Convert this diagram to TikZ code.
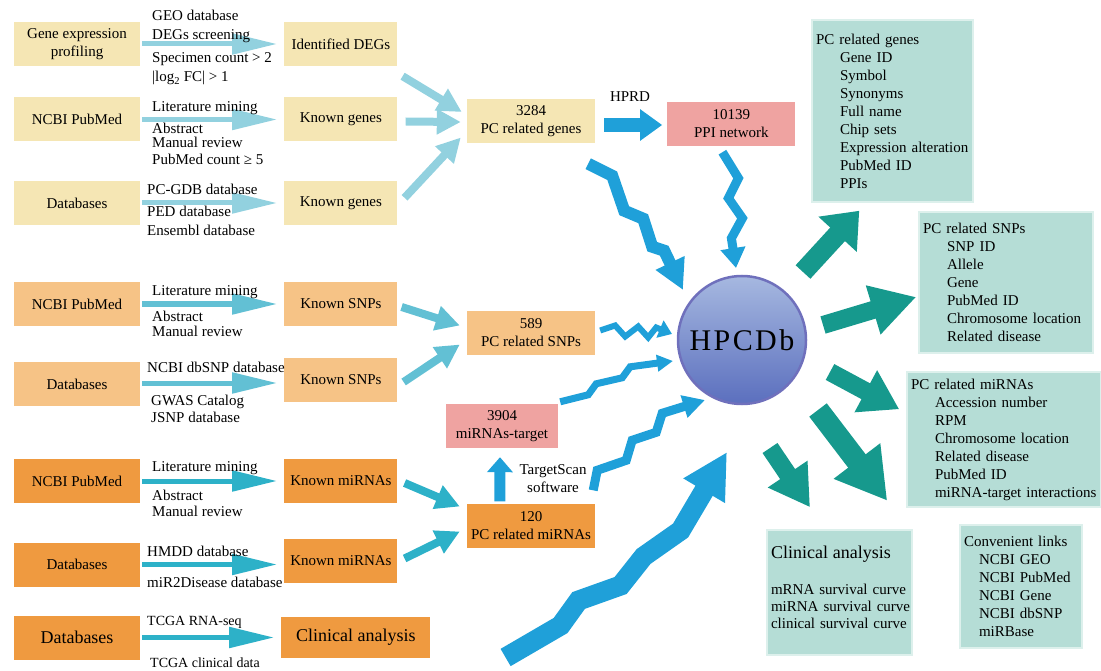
\documentclass[tikz,border=0pt]{standalone}
\usepackage{fontspec}
\setmainfont{Liberation Serif}
\usetikzlibrary{positioning, arrows.meta, calc}

\definecolor{genefill}{HTML}{F5E6B4}
\definecolor{snpfill}{HTML}{F6C386}
\definecolor{mirfill}{HTML}{EF9A40}
\definecolor{pinkfill}{HTML}{EFA3A1}
\definecolor{infofill}{HTML}{B5DDD6}
\definecolor{infoedge}{HTML}{DDF0EC}
\definecolor{genearr}{HTML}{92D1DF}
\definecolor{snparr}{HTML}{62C0D4}
\definecolor{mirarr}{HTML}{2DB1C8}
\definecolor{boltblue}{HTML}{1FA0D9}
\definecolor{outteal}{HTML}{16998D}
\definecolor{balledge}{HTML}{6F70BC}
\definecolor{balltop}{HTML}{A6B8E0}
\definecolor{ballmid}{HTML}{8FA4D8}
\definecolor{ballbot}{HTML}{5B6FBE}

\newcommand{\fieldline}[2][1.6em]{\hspace*{#1}\mbox{#2}}

\begin{document}
\begin{tikzpicture}[
    x=1pt, y=-1pt,
    font=\fontsize{15}{18}\selectfont,
    srcbox/.style={minimum width=126pt, minimum height=44pt, inner sep=2pt, align=center},
    knownbox/.style={minimum width=113pt, minimum height=44pt, inner sep=2pt, align=center},
    sumbox/.style={minimum width=128pt, minimum height=44pt, inner sep=2pt, align=center},
    infobox/.style={fill=infofill, draw=infoedge, line width=1.5pt, align=left, inner xsep=4pt},
    lbl/.style={anchor=base west, align=left, inner sep=0pt},
    flow/.style={line width=5pt, shorten <=2pt, shorten >=7pt,
                 -{Triangle[length=45pt, width=20pt]}},
    merge/.style={line width=8pt, -{Triangle[length=24pt, width=24pt]}},
    boltarr/.style n args={3}{draw=boltblue, line width=#1, line join=miter,
                 miter limit=4, -{Triangle[length=#2, width=#3]}},
    fanout/.style n args={3}{draw=outteal, line width=#1,
                 -{Triangle[length=#2, width=#3]}},
]
\useasboundingbox (0,0) rectangle (1101,671);

% ── Gene sources ─────────────────────────────────────────────────────────
% (label nodes sit on the baseline of their last line)
\node[srcbox, fill=genefill] (gexp) at (77,44) {Gene expression\\profiling};
\node[srcbox, fill=genefill] (pmgene) at (77,119.5) {NCBI PubMed};
\node[srcbox, fill=genefill] (dbgene) at (77,203) {Databases};
\node[knownbox, fill=genefill, right=144pt of gexp] (degs) {Identified DEGs};
\node[knownbox, fill=genefill, right=144pt of pmgene] (kgene1) {Known genes};
\node[knownbox, fill=genefill, right=144pt of dbgene] (kgene2) {Known genes};
\draw[flow, draw=genearr] (gexp.east) -- (gexp.east -| degs.west);
\draw[flow, draw=genearr] (pmgene.east) -- (pmgene.east -| kgene1.west);
\draw[flow, draw=genearr] (dbgene.east) -- (dbgene.east -| kgene2.west);
\node[lbl] (gexpup) at (152,40) {GEO database\\[1pt]DEGs screening};
\node[lbl] (gexpdn) at (152,82) {Specimen count > 2\\[1pt]|log\textsubscript{2} FC| > 1};
\node[lbl] (pmgeneup) at (152,112) {Literature mining};
\node[lbl] (pmgenedn) at (152,165) {Abstract\\[-4pt]Manual review\\[-1pt]PubMed count ≥ 5};
\node[lbl] (dbgeneup) at (147,195) {PC-GDB database};
\node[lbl] (dbgenedn) at (147,236) {PED database\\[1pt]Ensembl database};

% ── SNP sources ──────────────────────────────────────────────────────────
\node[srcbox, fill=snpfill] (pmsnp) at (77,304) {NCBI PubMed};
\node[srcbox, fill=snpfill] (dbsnp) at (77,384) {Databases};
\node[knownbox, fill=snpfill, right=144pt of pmsnp] (ksnp1) {Known SNPs};
\node[knownbox, fill=snpfill, right=144pt of dbsnp, yshift=4pt] (ksnp2) {Known SNPs};
\draw[flow, draw=snparr] (pmsnp.east) -- (pmsnp.east -| ksnp1.west);
\draw[flow, draw=snparr] ($(dbsnp.east)+(0,-1)$) -- ($(dbsnp.east -| ksnp2.west)+(0,-1)$);
\node[lbl] (pmsnpup) at (152,296) {Literature mining};
\node[lbl] (pmsnpdn) at (152,336) {Abstract\\[-3pt]Manual review};
\node[lbl] (dbsnpup) at (147,372) {NCBI dbSNP database};
\node[lbl] (dbsnpdn) at (151,422) {GWAS Catalog\\[-1pt]JSNP database};

% ── miRNA sources ────────────────────────────────────────────────────────
\node[srcbox, fill=mirfill] (pmmir) at (77,481) {NCBI PubMed};
\node[srcbox, fill=mirfill] (dbmir) at (77,564.5) {Databases};
\node[knownbox, fill=mirfill, right=144pt of pmmir] (kmir1) {Known miRNAs};
\node[knownbox, fill=mirfill, right=144pt of dbmir, yshift=4pt] (kmir2) {Known miRNAs};
\draw[flow, draw=mirarr] (pmmir.east) -- (pmmir.east -| kmir1.west);
\draw[flow, draw=mirarr] (dbmir.east) -- (dbmir.east -| kmir2.west);
\node[lbl] (pmmirup) at (152,471) {Literature mining};
\node[lbl] (pmmirdn) at (152,516) {Abstract\\[-2pt]Manual review};
\node[lbl] (dbmirup) at (147,556) {HMDD database};
\node[lbl] (dbmirdn) at (147,587) {miR2Disease database};

% ── Clinical source ──────────────────────────────────────────────────────
\node[srcbox, fill=mirfill, font=\fontsize{18}{22}\selectfont] (dbclin) at (77,637.5) {Databases};
\node[knownbox, fill=mirfill, minimum width=149pt, minimum height=41pt,
      font=\fontsize{18}{22}\selectfont, right=141pt of dbclin] (clin) {Clinical analysis};
\draw[flow, draw=mirarr] (dbclin.east) -- (dbclin.east -| clin.west);
\node[lbl, font=\fontsize{14}{17}\selectfont] (dbclinup) at (147,625) {TCGA RNA-seq};
\node[lbl, font=\fontsize{14}{17}\selectfont] (dbclindn) at (150,667) {TCGA clinical data};

% ── Merged sets ──────────────────────────────────────────────────────────
\node[sumbox, fill=genefill] (pcgenes) at (531,121.5) {3284\\PC related genes};
\node[sumbox, fill=pinkfill, right=72pt of pcgenes, yshift=-2.5pt] (ppi) {10139\\PPI network};
\node[sumbox, fill=snpfill] (pcsnps) at (531,332.5) {589\\PC related SNPs};
\node[sumbox, fill=pinkfill, minimum width=112pt] (mirtgt) at (502,426) {3904\\miRNAs-target};
\node[sumbox, fill=mirfill] (pcmirs) at (531,525.5) {120\\PC related miRNAs};
\node (hprd) at (630,97) {HPRD};
\node[align=center] (tscan) at (553,479) {TargetScan\\software};

\draw[merge, draw=genearr] ($(degs.south east)+(5,10)$) -- ($(pcgenes.west)+(-5,-9.5)$);
\draw[merge, draw=genearr] ($(kgene1.east)+(8,2)$) -- ($(pcgenes.west)+(-6,0.5)$);
\draw[merge, draw=genearr] ($(kgene2.north east)+(7,17)$) -- ($(pcgenes.west)+(-6,16)$);
\draw[merge, draw=snparr] ($(ksnp1.east)+(4,3)$) -- ($(pcsnps.west)+(-7,-7)$);
\draw[merge, draw=snparr] ($(ksnp2.east)+(6,2)$) -- ($(pcsnps.west)+(-7,12)$);
\draw[merge, draw=mirarr] ($(kmir1.east)+(7,2)$) -- ($(pcmirs.west)+(-7,-19)$);
\draw[merge, draw=mirarr] ($(kmir2.east)+(7,-2)$) -- ($(pcmirs.west)+(-7,6)$);

\draw[boltarr={14pt}{22pt}{30pt}] ($(pcgenes.east)+(9,3.5)$) -- ($(ppi.west)+(-5,1)$);
\draw[boltarr={11pt}{15pt}{25pt}] ($(pcmirs.north west)+(33,-2)$) -- ($(mirtgt.south)+(-2,9)$);

% ── HPCDb ────────────────────────────────────────────────────────────────
\node[circle, minimum size=128pt, draw=balledge, line width=2.5pt,
      top color=balltop, middle color=ballmid, bottom color=ballbot]
    (hpcdb) at (742,340) {\fontsize{30}{30}\selectfont\addfontfeature{LetterSpace=8}HPCDb};

% ── Lightning arrows into HPCDb ──────────────────────────────────────────
\draw[boltarr={12pt}{30pt}{30pt}] ($(pcgenes.south east)+(-7,20)$)
    -- ++(24,12) -- ++(12,35) -- ++(19,8) -- ++(9,28) -- ++(12,4)
    -- ($(hpcdb.center)+(-59,-50)$);
\draw[boltarr={9pt}{20pt}{24pt}] ($(ppi.south)+(-9,6)$)
    -- ++(16,26) -- ++(-10,20) -- ++(14,20) -- ++(-11,20)
    -- ($(hpcdb.center)+(-6,-72)$);
\draw[boltarr={6pt}{13pt}{18pt}] ($(pcsnps.east)+(5,-2)$)
    -- ++(15,-5) -- ++(10,11) -- ++(13,-10) -- ++(10,11) -- ++(8,-10)
    -- ($(hpcdb.center)+(-70,-6)$);
\draw[boltarr={7pt}{16pt}{16pt}] ($(mirtgt.north east)+(2,-2)$)
    -- ++(28,-7) -- ++(8,-11) -- ++(26,-6) -- ++(8,-11)
    -- ($(hpcdb.center)+(-69,21)$);
\draw[boltarr={9pt}{22pt}{22pt}] ($(pcmirs.north east)+(-2,-13)$)
    -- ++(4,-20) -- ++(29,-10) -- ++(6,-20) -- ++(24,-8) -- ++(6,-19)
    -- ($(hpcdb.center)+(-37,60)$);
\draw[boltarr={20pt}{45pt}{45pt}] ($(clin.east)+(75,20)$)
    -- ++(55,-32) -- ++(18,-25) -- ++(42,-15) -- ++(23,-29) -- ++(37,-26)
    -- ($(hpcdb.center)+(-15,112)$);

% ── Contents ─────────────────────────────────────────────────────────────
\node[infobox, text width=153pt, minimum height=182pt] (rgenes) at (892.5,111)
    {PC related genes\\\fieldline{Gene ID}\\\fieldline{Symbol}\\\fieldline{Synonyms}\\
     \fieldline{Full name}\\\fieldline{Chip sets}\\\fieldline{Expression alteration}\\
     \fieldline{PubMed ID}\\\fieldline{PPIs}};
\node[infobox, text width=166pt, minimum height=141pt] (rsnps) at (1006,282.5)
    {PC related SNPs\\\fieldline{SNP ID}\\\fieldline{Allele}\\\fieldline{Gene}\\
     \fieldline{PubMed ID}\\\fieldline{Chromosome location}\\\fieldline{Related disease}};
\node[infobox, text width=186pt, minimum height=135pt] (rmirs) at (1004,439.5)
    {PC related miRNAs\\\fieldline{Accession number}\\\fieldline{RPM}\\
     \fieldline{Chromosome location}\\\fieldline{Related disease}\\\fieldline{PubMed ID}\\
     \fieldline{miRNA-target interactions}};
\node[infobox, text width=137pt, minimum height=125pt] (rclin) at (839.5,592.5)
    {\mbox{\fontsize{18}{22}\selectfont Clinical analysis}\\[18pt]\mbox{mRNA survival curve}\\[-1pt]
     \mbox{miRNA survival curve}\\[-1pt]\mbox{clinical survival curve}\\[-8pt]\mbox{}};
\node[infobox, text width=114pt, minimum height=123pt] (rlinks) at (1021,586.5)
    {Convenient links\\\fieldline[1em]{NCBI GEO}\\\fieldline[1em]{NCBI PubMed}\\
     \fieldline[1em]{NCBI Gene}\\\fieldline[1em]{NCBI dbSNP}\\\fieldline[1em]{miRBase}};

% ── Fan-out arrows ───────────────────────────────────────────────────────
\draw[fanout={20pt}{32pt}{50pt}] ($(hpcdb.center)+(61,-68)$) -- ($(rgenes.south west)+(48,8)$);
\draw[fanout={18pt}{45pt}{48pt}] ($(hpcdb.center)+(81,-15)$) -- ($(rsnps.west)+(-2,14.5)$);
\draw[fanout={18pt}{38pt}{45pt}] ($(hpcdb.center)+(88,32)$) -- ($(rmirs.north west)+(-7,38)$);
\draw[fanout={22pt}{50pt}{55pt}] ($(hpcdb.center)+(76,70)$) -- ($(rmirs.south west)+(-19,-7)$);
\draw[fanout={18pt}{40pt}{45pt}] ($(hpcdb.center)+(28,108)$) -- ($(rclin.north)+(-29.5,-22)$);

\end{tikzpicture}
\end{document}
